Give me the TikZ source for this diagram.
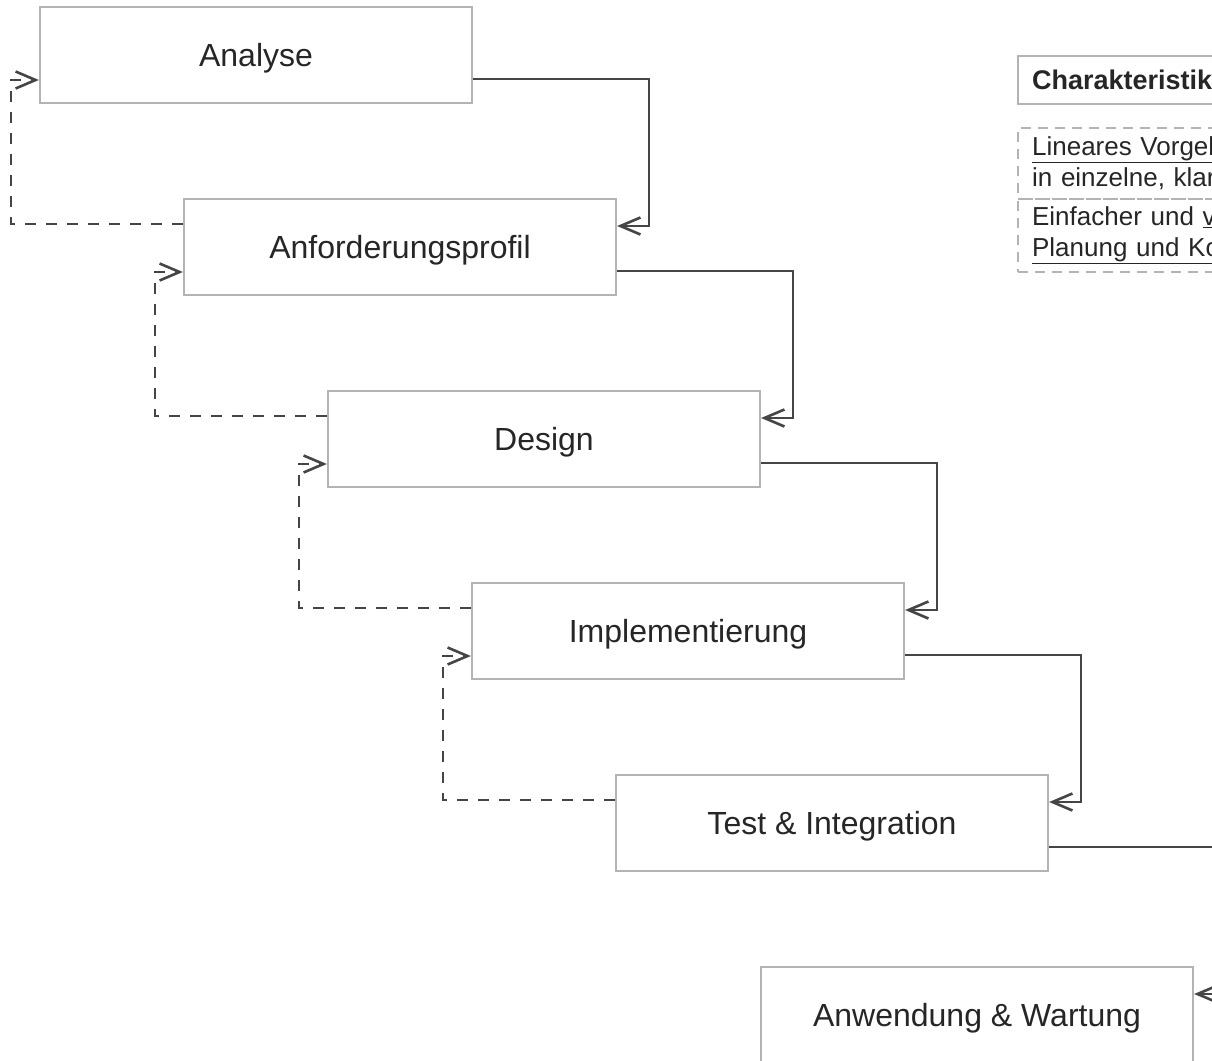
\documentclass[tikz,border=0pt]{standalone}
\usepackage{fontspec}
\setmainfont{Liberation Sans}
\usetikzlibrary{positioning, calc, arrows.meta}
\definecolor{xline}{HTML}{454545}
\definecolor{xbox}{HTML}{B3B3B3}
\definecolor{xtext}{HTML}{262626}
\tikzset{
	phase/.style={draw=xbox, line width=2.2pt, fill=white, minimum width=432pt, minimum height=96pt, text height=23pt, text depth=0pt, text=xtext, font=\fontsize{32}{38}\selectfont},
	flow/.style={draw=xline, line width=2.6pt, -{Straight Barb[length=20pt, width=17pt]}},
	back/.style={flow, dash pattern=on 11pt off 10pt},
	head/.style={draw=xbox, line width=2.2pt, anchor=north west, minimum width=600pt, minimum height=48pt, text width=572pt, inner xsep=14pt, align=left, text=xtext, font=\fontsize{27}{31}\selectfont\bfseries},
	cell/.style={draw=xbox, line width=2.2pt, dash pattern=on 10pt off 7pt, anchor=north west, minimum width=600pt, text width=572pt, inner xsep=14pt, align=left, text=xtext, font=\fontsize{26}{31}\selectfont},
}

\begin{document}
\begin{tikzpicture}[x=1pt, y=-1pt]
	\useasboundingbox (0,0) rectangle (1212,1060);
	\clip (0,0) rectangle (1212,1060);

% Phases
	\node[phase] (ana) at (256,55) {Analyse};
	\node[phase] (anf) at (400,247) {Anforderungsprofil};
	\node[phase] (des) at (544,439) {Design};
	\node[phase] (imp) at (688,631) {Implementierung};
	\node[phase] (tst) at (832,823) {Test \& Integration};
	\node[phase] (anw) at (977,1015) {Anwendung \& Wartung};

% Forward flow
	\draw[flow] ([yshift=-24pt]ana.east) -- ++(176,0) |- ([yshift=21pt]anf.east);
	\draw[flow] ([yshift=-24pt]anf.east) -- ++(176,0) |- ([yshift=21pt]des.east);
	\draw[flow] ([yshift=-24pt]des.east) -- ++(176,0) |- ([yshift=21pt]imp.east);
	\draw[flow] ([yshift=-24pt]imp.east) -- ++(176,0) |- ([yshift=21pt]tst.east);
	\draw[flow] ([yshift=-24pt]tst.east) -- ++(176,0) |- ([yshift=21pt]anw.east);

% Feedback
	\draw[back] ([yshift=23pt]anf.west) -- ++(-172,0) |- ([yshift=-25pt]ana.west);
	\draw[back] ([yshift=23pt]des.west) -- ++(-172,0) |- ([yshift=-25pt]anf.west);
	\draw[back] ([yshift=23pt]imp.west) -- ++(-172,0) |- ([yshift=-25pt]des.west);
	\draw[back] ([yshift=23pt]tst.west) -- ++(-172,0) |- ([yshift=-25pt]imp.west);

% Characteristics
	\node[head] (char) at (1017,55) {Charakteristika};
	\node[cell, minimum height=71pt] (lin) at (1017,127) {\underline{Lineares Vorgehen}\\in einzelne, klar};
	\node[cell, minimum height=73pt] (ein) at (1017,198) {Einfacher und \underline{verst}\\\underline{Planung und Kontrolle}};
\end{tikzpicture}
\end{document}
